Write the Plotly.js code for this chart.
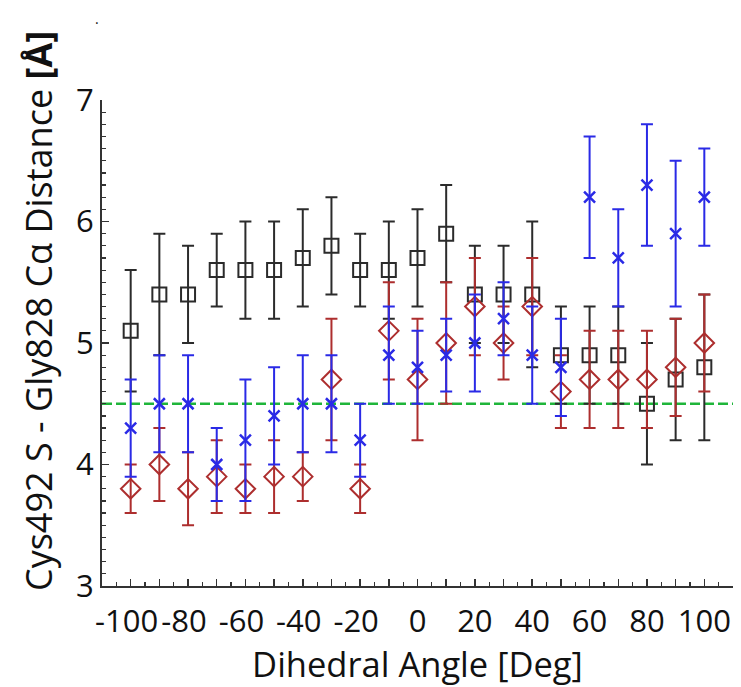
<!DOCTYPE html>
<html>
<head>
<meta charset="utf-8">
<script src="https://cdn.plot.ly/plotly-3.0.1.min.js"></script>
<style>html,body{margin:0;padding:0;background:#fff;}#chart{width:741px;height:687px;}</style>
</head>
<body>
<div id="chart"></div>
<script>
// Dihedral angles (deg)
const angles = [-100,-90,-80,-70,-60,-50,-40,-30,-20,-10,0,10,20,30,40,50,60,70,80,90,100];

// Black squares series
const blackY   = [5.1,5.4,5.4,5.6,5.6,5.6,5.7,5.8,5.6,5.6,5.7,5.9,5.4,5.4,5.4,4.9,4.9,4.9,4.5,4.7,4.8];
const blackErr = [0.5,0.5,0.4,0.3,0.4,0.4,0.4,0.4,0.3,0.4,0.4,0.4,0.4,0.4,0.6,0.4,0.4,0.4,0.5,0.5,0.6];

// Blue crosses series
const blueY    = [4.3,4.5,4.5,4.0,4.2,4.4,4.5,4.5,4.2,4.9,4.8,4.9,5.0,5.2,4.9,4.8,6.2,5.7,6.3,5.9,6.2];
const blueErr  = [0.4,0.4,0.4,0.3,0.5,0.4,0.4,0.4,0.3,0.4,0.3,0.3,0.4,0.3,0.4,0.4,0.5,0.4,0.5,0.6,0.4];

// Red diamonds series
const redY     = [3.8,4.0,3.8,3.9,3.8,3.9,3.9,4.7,3.8,5.1,4.7,5.0,5.3,5.0,5.3,4.6,4.7,4.7,4.7,4.8,5.0];
const redErr   = [0.2,0.3,0.3,0.3,0.2,0.3,0.2,0.5,0.2,0.4,0.5,0.5,0.4,0.3,0.4,0.3,0.4,0.4,0.4,0.4,0.4];

// Reference line
const refX = [-110, 110];
const refY = [4.5, 4.5];

// Tick values / labels
const xTickVals = [-100,-90,-80,-70,-60,-50,-40,-30,-20,-10,0,10,20,30,40,50,60,70,80,90,100];
const xTickText = ["-100\u00A0","","-80\u00A0","","-60\u00A0","","-40\u00A0","","-20\u00A0","","0","","20","","40","","60","","80","","100"];
const yTickVals = [3,4,5,6,7];
const yTickText = ["3","4","5","6","7"];

const cBlack = '#2b2b2b', cRed = '#ad2e2e', cBlue = '#2a2ae6', cGreen = '#1fb53a';

function series(y, err, color, symbol, size, lw){
  return {
    x: angles, y: y, type: 'scatter', mode: 'markers',
    marker: {symbol: symbol, size: size, color: color, line: {color: color, width: lw}},
    error_y: {type: 'data', array: err, visible: true, color: color, thickness: 2, width: 6},
    showlegend: false, hoverinfo: 'skip'
  };
}

const traces = [
  {x: refX, y: refY, type: 'scatter', mode: 'lines', line: {color: cGreen, width: 2.5, dash: '10px,4px'}, showlegend: false, hoverinfo: 'skip'},
  series(blackY, blackErr, cBlack, 'square-open', 14, 2),
  series(redY, redErr, cRed, 'diamond-open', 15, 2),
  series(blueY, blueErr, cBlue, 'x-thin-open', 11, 2.5)
];

const tickFont = {family: 'Open Sans, sans-serif', size: 31, color: '#111'};

const layout = {
  width: 741, height: 687,
  margin: {l: 102, r: 8, t: 100, b: 101, pad: 0},
  paper_bgcolor: '#fff', plot_bgcolor: '#fff',
  showlegend: false,
  xaxis: {
    range: [-110, 110], showgrid: false, zeroline: false,
    showline: true, linecolor: '#333', linewidth: 2,
    ticks: 'inside', ticklen: 7, tickwidth: 1.5, tickcolor: '#333',
    tickmode: 'array', tickvals: xTickVals, ticktext: xTickText, tickangle: 0,
    tickfont: tickFont, ticklabelstandoff: 7,
    minor: {tickmode: 'linear', tick0: 0, dtick: 5, ticks: 'inside', ticklen: 4, tickwidth: 1.2, tickcolor: '#333', showgrid: false},
    title: {text: 'Dihedral Angle [Deg]', font: {family: 'Open Sans, sans-serif', size: 34.5, color: '#111'}, standoff: 8}
  },
  yaxis: {
    range: [3, 7], showgrid: false, zeroline: false,
    showline: true, linecolor: '#333', linewidth: 2,
    ticks: 'inside', ticklen: 7, tickwidth: 1.5, tickcolor: '#333',
    tickmode: 'array', tickvals: yTickVals, ticktext: yTickText,
    tickfont: tickFont,
    minor: {tickmode: 'linear', tick0: 3, dtick: 0.1, ticks: 'inside', ticklen: 4, tickwidth: 1.2, tickcolor: '#333', showgrid: false}
  },
  annotations: [
    {xref: 'paper', yref: 'paper', x: (38 - 102) / 631, y: (586 - 311) / 486,
     xanchor: 'center', yanchor: 'middle', textangle: -90, showarrow: false,
     text: 'Cys492 S - Gly828 Cα Distance <b>[Å]</b>',
     font: {family: 'Open Sans, sans-serif', size: 36, color: '#111'}},
    {xref: 'paper', yref: 'paper', x: (97 - 102) / 631, y: (586 - 18) / 486,
     xanchor: 'center', yanchor: 'middle', showarrow: false, text: '.',
     font: {family: 'Open Sans, sans-serif', size: 14, color: '#111'}}
  ]
};

Plotly.newPlot('chart', traces, layout, {displayModeBar: false, staticPlot: true});
</script>
</body>
</html>
